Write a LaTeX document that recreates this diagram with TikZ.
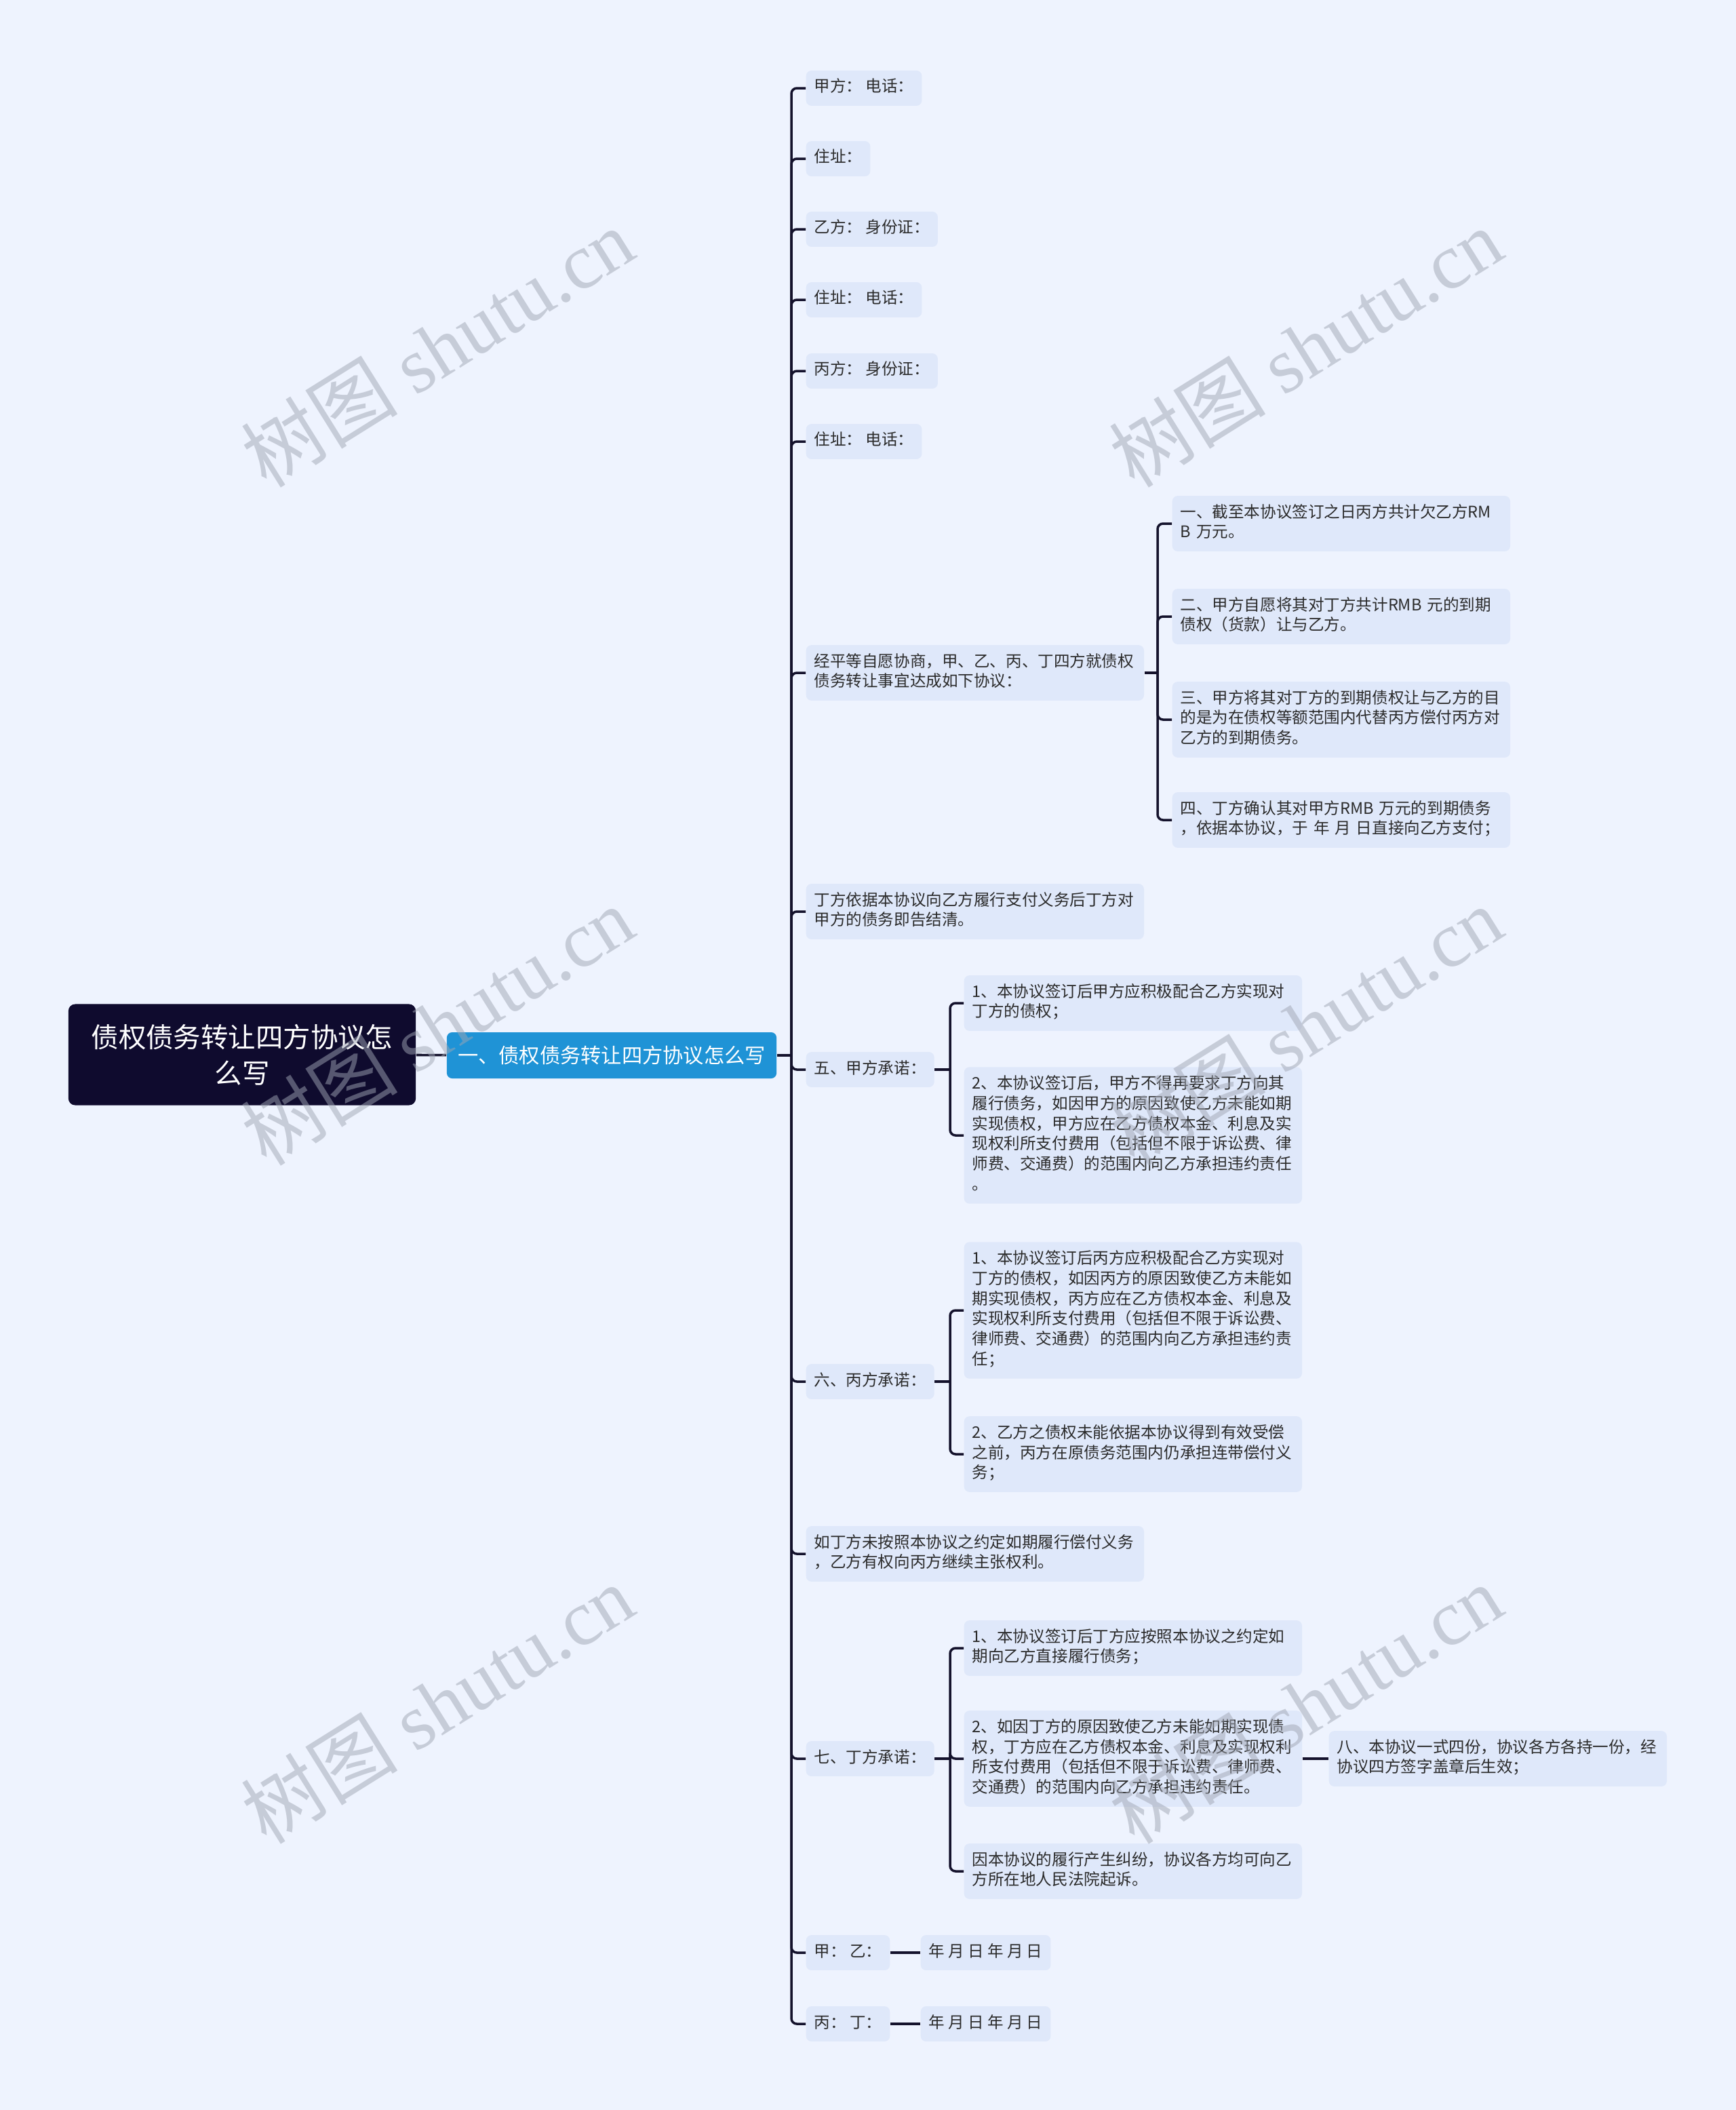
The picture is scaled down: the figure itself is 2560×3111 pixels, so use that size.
\documentclass[tikz,border=0pt]{standalone}
\usepackage{fontspec}
\setmainfont{Noto Sans CJK SC}
\newfontfamily\wmlatin{Liberation Serif}
\usetikzlibrary{positioning}
\definecolor{canvas}{HTML}{EEF3FE}
\definecolor{leaffill}{HTML}{DFE8FA}
\definecolor{rootfill}{HTML}{0F0B2E}
\definecolor{topicfill}{HTML}{1F93D6}
\definecolor{linec}{HTML}{14122C}
\definecolor{inkc}{HTML}{2B2B2B}
\definecolor{wmc}{HTML}{A0A6B4}
\tikzset{
  leaf/.style={fill=leaffill, rounded corners=0.08cm, anchor=west, align=left, inner xsep=0.12cm, inner ysep=0.11cm,
    font=\fontsize{6.7}{8.5}\selectfont, text=inkc, execute at begin node=\strut, execute at end node=\strut},
  wide/.style={leaf, text width=4.74cm},
  root/.style={fill=rootfill, rounded corners=0.1cm, text=white, align=center, minimum width=5.12cm, minimum height=1.49cm,
    font=\fontsize{11.5}{15.2}\selectfont},
  topic/.style={fill=topicfill, rounded corners=0.08cm, text=white, minimum width=4.86cm, minimum height=0.68cm,
    font=\fontsize{8.6}{10}\selectfont},
  link/.style={draw=linec, line width=1pt, rounded corners=0.08cm},
  wmark/.style={text=wmc, text opacity=0.5, rotate=32, font=\fontsize{33}{33}\selectfont},
}
\begin{document}
\begin{tikzpicture}[x=0.01cm, y=-0.01cm]
    \fill[canvas] (0,0) rectangle (2560,3111);
    % root and first topic
    \node[root] (root) at (357,1555) {债权债务转让四方协议怎\\么写};
    \node[topic] (topic) at (902,1556) {一、债权债务转让四方协议怎么写};
    \coordinate (t0) at (1167,1556);
    % parties
    \node[leaf] (pa)  at (1188,130) {甲方：\ 电话：};
    \node[leaf] (pa2) at (1188,234) {住址：};
    \node[leaf] (pb)  at (1188,338) {乙方：\ 身份证：};
    \node[leaf] (pb2) at (1188,442) {住址：\ 电话：};
    \node[leaf] (pc)  at (1188,547) {丙方：\ 身份证：};
    \node[leaf] (pc2) at (1188,651) {住址：\ 电话：};
    % clauses
    \node[wide] (agree)  at (1188,992)  {经平等自愿协商，甲、乙、丙、丁四方就债权\\债务转让事宜达成如下协议：};
    \node[wide] (settle) at (1188,1344) {丁方依据本协议向乙方履行支付义务后丁方对\\甲方的债务即告结清。};
    \node[leaf] (promA)  at (1188,1577) {五、甲方承诺：};
    \node[leaf] (promC)  at (1188,2037) {六、丙方承诺：};
    \node[wide] (breach) at (1188,2291) {如丁方未按照本协议之约定如期履行偿付义务\\，乙方有权向丙方继续主张权利。};
    \node[leaf] (promD)  at (1188,2593) {七、丁方承诺：};
    \node[leaf] (signAB) at (1188,2879) {甲：\ 乙：};
    \node[leaf] (signCD) at (1188,2984) {丙：\ 丁：};
    % agreement items
    \coordinate (t1) at (1707,992);
    \node[wide] (c1) at (1728,772)  {一、截至本协议签订之日丙方共计欠乙方RM\\B 万元。};
    \node[wide] (c2) at (1728,909)  {二、甲方自愿将其对丁方共计RMB 元的到期\\债权（货款）让与乙方。};
    \node[wide] (c3) at (1728,1061) {三、甲方将其对丁方的到期债权让与乙方的目\\的是为在债权等额范围内代替丙方偿付丙方对\\乙方的到期债务。};
    \node[wide] (c4) at (1728,1209) {四、丁方确认其对甲方RMB 万元的到期债务\\，依据本协议，于 年 月 日直接向乙方支付；};
    % promises of party A
    \coordinate (t2) at (1401,1577);
    \node[wide] (a1) at (1421,1479) {1、本协议签订后甲方应积极配合乙方实现对\\丁方的债权；};
    \node[wide] (a2) at (1421,1674) {2、本协议签订后，甲方不得再要求丁方向其\\履行债务，如因甲方的原因致使乙方未能如期\\实现债权，甲方应在乙方债权本金、利息及实\\现权利所支付费用（包括但不限于诉讼费、律\\师费、交通费）的范围内向乙方承担违约责任\\。};
    % promises of party C
    \coordinate (t3) at (1401,2037);
    \node[wide] (b1) at (1421,1932) {1、本协议签订后丙方应积极配合乙方实现对\\丁方的债权，如因丙方的原因致使乙方未能如\\期实现债权，丙方应在乙方债权本金、利息及\\实现权利所支付费用（包括但不限于诉讼费、\\律师费、交通费）的范围内向乙方承担违约责\\任；};
    \node[wide] (b2) at (1421,2144) {2、乙方之债权未能依据本协议得到有效受偿\\之前，丙方在原债务范围内仍承担连带偿付义\\务；};
    % promises of party D
    \coordinate (t4) at (1401,2593);
    \node[wide] (d1) at (1421,2430) {1、本协议签订后丁方应按照本协议之约定如\\期向乙方直接履行债务；};
    \node[wide] (d2) at (1421,2593) {2、如因丁方的原因致使乙方未能如期实现债\\权，丁方应在乙方债权本金、利息及实现权利\\所支付费用（包括但不限于诉讼费、律师费、\\交通费）的范围内向乙方承担违约责任。};
    \node[wide] (d3) at (1421,2759) {因本协议的履行产生纠纷，协议各方均可向乙\\方所在地人民法院起诉。};
    \node[wide] (copies) at (1959,2593) {八、本协议一式四份，协议各方各持一份，经\\协议四方签字盖章后生效；};
    % dates
    \node[leaf] (dateAB) at (1357,2879) {年 月 日 年 月 日};
    \node[leaf] (dateCD) at (1357,2984) {年 月 日 年 月 日};
    % links
    \draw[link] (root) -- (topic);
    \draw[link] (topic) -- (t0);
    \foreach \n in {pa,pa2,pb,pb2,pc,pc2,agree,settle,promA,promC,breach,promD,signAB,signCD}
      \draw[link] (t0) |- (\n.west);
    \draw[link] (agree) -- (t1);
    \foreach \n in {c1,c2,c3,c4}
      \draw[link] (t1) |- (\n.west);
    \draw[link] (promA) -- (t2);
    \foreach \n in {a1,a2}
      \draw[link] (t2) |- (\n.west);
    \draw[link] (promC) -- (t3);
    \foreach \n in {b1,b2}
      \draw[link] (t3) |- (\n.west);
    \draw[link] (promD) -- (t4);
    \foreach \n in {d1,d2,d3}
      \draw[link] (t4) |- (\n.west);
    \draw[link] (d2) -- (copies);
    \draw[link] (signAB) -- (dateAB);
    \draw[link] (signCD) -- (dateCD);
    % watermark
    \foreach \wx/\wy [count=\k] in {645/512,1925/512,645/1512,1925/1512,645/2512,1925/2512}
      \node[wmark] (wm\k) at (\wx,\wy) {树图 {\wmlatin shutu.cn}};
\end{tikzpicture}
\end{document}
